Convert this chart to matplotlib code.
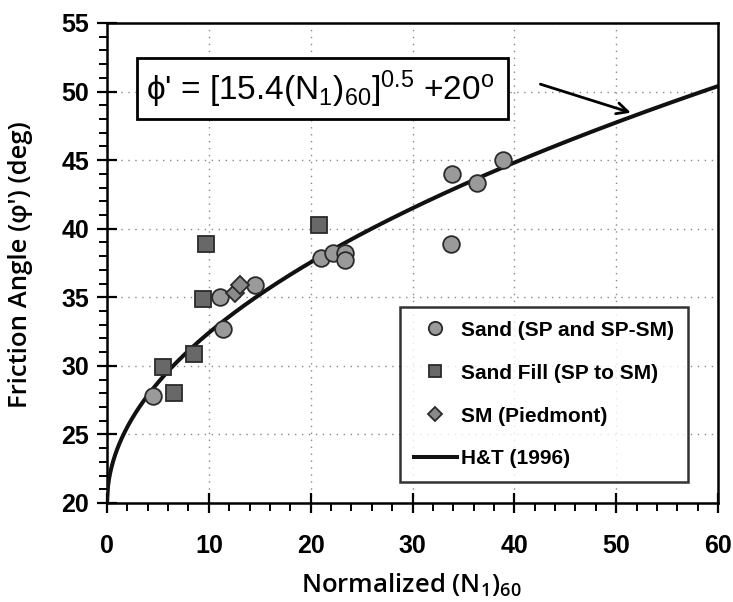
import numpy as np
import matplotlib
matplotlib.use("Agg")
import matplotlib.pyplot as plt
from matplotlib.ticker import MultipleLocator
from matplotlib.patches import Rectangle

# ---- data ----
sand_x = [4.5, 11.4, 11.1, 14.5, 21.0, 22.2, 23.4, 23.4, 33.9, 36.3, 38.9, 33.8]
sand_y = [27.8, 32.7, 35.0, 35.9, 37.9, 38.2, 38.2, 37.7, 44.0, 43.3, 45.0, 38.9]
fill_x = [5.5, 6.6, 8.5, 9.4, 9.7, 20.8]
fill_y = [29.9, 28.0, 30.9, 34.9, 38.9, 40.3]
pied_x = [12.6, 13.1]
pied_y = [35.3, 35.9]
curve_coef = 15.4
curve_exp = 0.5
curve_base = 20.0
xlim = (0, 60)
ylim = (20, 55)

fig = plt.figure(figsize=(7.33, 6.02), dpi=100)
ax = fig.add_axes([107 / 733, 1 - 503 / 602, 611 / 733, 480 / 602])

N = np.linspace(0, 60, 600)
phi = (curve_coef * N) ** curve_exp + curve_base

ax.plot(sand_x, sand_y, 'o', ms=12, mfc='#9a9a9a', mec='#2a2a2a', mew=1.3,
        label='Sand (SP and SP-SM)', zorder=4)
ax.plot(fill_x, fill_y, 's', ms=11.5, mfc='#686868', mec='#2a2a2a', mew=1.3,
        label='Sand Fill (SP to SM)', zorder=4)
ax.plot(pied_x, pied_y, 'D', ms=9, mfc='#8a8a8a', mec='#2a2a2a', mew=1.3,
        label='SM (Piedmont)', zorder=4)
ax.plot(N, phi, '-', color='#111111', lw=2.9, label='H&T (1996)', zorder=3)

ax.set_xlim(*xlim)
ax.set_ylim(*ylim)
ax.xaxis.set_major_locator(MultipleLocator(10))
ax.xaxis.set_minor_locator(MultipleLocator(2))
ax.yaxis.set_major_locator(MultipleLocator(5))
ax.yaxis.set_minor_locator(MultipleLocator(1))
ax.tick_params(which='major', direction='inout', length=14, width=1.6)
ax.tick_params(which='minor', direction='out', length=6, width=1.4)
ax.tick_params(axis='x', which='major', pad=15)
ax.tick_params(axis='y', which='major', pad=6)
for lab in ax.get_xticklabels() + ax.get_yticklabels():
    lab.set_fontfamily('Liberation Sans')
    lab.set_fontweight('bold')
    lab.set_fontsize(18)
for s in ax.spines.values():
    s.set_linewidth(1.8)

ax.grid(True, which='major', linestyle=(0, (1, 4)), color='#888888', lw=1.0)

ax.set_xlabel(r"Normalized $\mathregular{(N_1)_{60}}$", family=['Open Sans', 'DejaVu Sans'],
              fontsize=18.5, fontweight='semibold')
ax.set_ylabel("Friction Angle (φ') (deg)", family=['Open Sans', 'DejaVu Sans'],
              fontsize=18.5, fontweight='semibold')
ax.xaxis.set_label_coords(0.4975, -0.171)
ax.xaxis.label.set_va('center')
ax.yaxis.set_label_coords(-0.142, 0.496)
ax.yaxis.label.set_va('center')

# equation box
ax.add_patch(Rectangle((2.95, 48.0), 36.45, 4.45, fill=True, fc='white',
                       ec='black', lw=2, zorder=5))
ax.text(20.97, 50.2, r"ϕ' = $\mathregular{[15.4(N_1)_{60}]^{0.5}}$ +20$\mathregular{^o}$",
        family=['Liberation Sans', 'DejaVu Sans'], fontsize=24,
        ha='center', va='center', zorder=6)
ax.annotate('', xy=(51.7, 48.4), xytext=(42.3, 50.6),
            arrowprops=dict(arrowstyle='->,head_length=0.8,head_width=0.4',
                            color='black', lw=2), zorder=6)

leg = ax.legend(loc='lower right', bbox_to_anchor=((688 - 107) / 611, (503 - 482) / 480),
                prop={'family': 'Liberation Sans', 'weight': 'bold', 'size': 15},
                frameon=True, fancybox=False, edgecolor='black',
                labelspacing=1.15, handlelength=2.1, handletextpad=0.2,
                borderpad=0.65, borderaxespad=0, markerscale=0.8)
leg.get_frame().set_linewidth(1.8)
leg.set_zorder(7)

fig.savefig('out.png', dpi=100)
